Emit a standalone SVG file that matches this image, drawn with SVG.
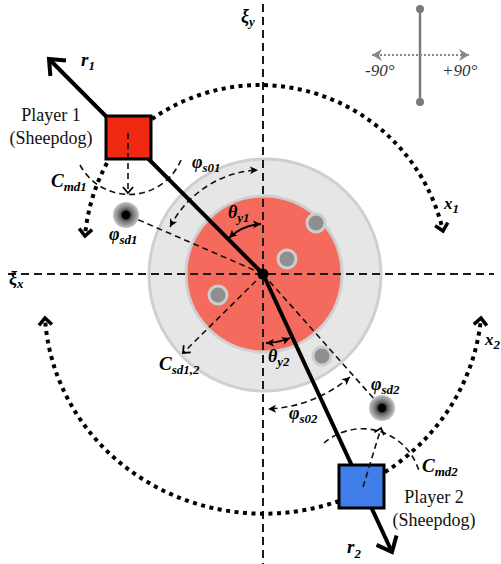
<svg xmlns="http://www.w3.org/2000/svg" width="501" height="564" viewBox="0 0 501 564">
<style>
.axis{fill:none;stroke:#1a1a1a;stroke-width:2;stroke-dasharray:8 5}
.dash{fill:none;stroke:#111;stroke-width:1.6;stroke-dasharray:6 4}
.dot{fill:none;stroke:#000;stroke-width:4;stroke-dasharray:4 4.5}
.rline{fill:none;stroke:#000;stroke-width:4}
.sheep{fill:#8f8f8f;stroke:#cdcdcd;stroke-width:3}
.m{font-family:"Liberation Serif","DejaVu Serif",serif;font-style:italic;font-weight:bold;fill:#000}
.sub{font-size:13px}
.pl{font-family:"Liberation Serif","DejaVu Serif",serif;font-size:18px;fill:#111;text-anchor:middle}
.leg{font-family:"Liberation Serif","DejaVu Serif",serif;font-style:italic;font-size:17px;fill:#333}
</style>
<defs>
<radialGradient id="sg">
<stop offset="0" stop-color="#000"/>
<stop offset="0.28" stop-color="#000"/>
<stop offset="0.4" stop-color="#555"/>
<stop offset="0.6" stop-color="#808080"/>
<stop offset="0.8" stop-color="#a2a2a2"/>
<stop offset="1" stop-color="#c6c6c6"/>
</radialGradient>
<marker id="big" markerUnits="userSpaceOnUse" viewBox="-20 -15 24 30" markerWidth="24" markerHeight="30" refX="0" refY="0" orient="auto">
<path d="M-13,-11 L0,0 L-13,11" fill="none" stroke="#000" stroke-width="4"/>
</marker>
<marker id="dotA" markerUnits="userSpaceOnUse" viewBox="-12 -10 16 20" markerWidth="16" markerHeight="20" refX="0" refY="0" orient="auto">
<path d="M-7,-6.5 L0,0 L-7,6.5" fill="none" stroke="#000" stroke-width="3.5"/>
</marker>
<marker id="chev" markerUnits="userSpaceOnUse" viewBox="-10 -8 12 16" markerWidth="12" markerHeight="16" refX="0" refY="0" orient="auto">
<path d="M-6,-5 L0,0 L-6,5" fill="none" stroke="#000" stroke-width="1.8"/>
</marker>
<marker id="fill" markerUnits="userSpaceOnUse" viewBox="-10 -6 12 12" markerWidth="12" markerHeight="12" refX="0" refY="0" orient="auto-start-reverse">
<path d="M-8,-4 L0,0 L-8,4 L-6,0 z" fill="#000"/>
</marker>
<marker id="legA" markerUnits="userSpaceOnUse" viewBox="-12 -8 14 16" markerWidth="14" markerHeight="16" refX="0" refY="0" orient="auto-start-reverse">
<path d="M-10,-6 L0,0 L-10,6 L-7,0 z" fill="#888"/>
</marker>
</defs>

<g id="field">
<circle cx="265" cy="275" r="116" fill="#e6e6e6" stroke="#cfcfcf" stroke-width="3"/>
<circle cx="264" cy="274" r="78" fill="#f46b5d" stroke="#cfcfcf" stroke-width="3"/>
</g>

<g id="axes">
<line class="axis" x1="263" y1="4" x2="263" y2="564"/>
<line class="axis" x1="8" y1="274" x2="494" y2="274"/>
</g>

<g id="sheep-herd">
<circle class="sheep" cx="316" cy="223" r="9"/>
<circle class="sheep" cx="287" cy="259" r="9"/>
<circle class="sheep" cx="218" cy="295" r="9"/>
<circle class="sheep" cx="322" cy="356" r="9"/>
</g>

<g id="connectors">
<line class="dash" x1="263" y1="274" x2="132" y2="217"/>
<line class="dash" x1="263" y1="274" x2="375" y2="400"/>
<line class="dash" x1="263" y1="274" x2="183" y2="353" marker-end="url(#chev)"/>
<path class="dash" d="M170,227 A104,104 0 0 1 258,170" marker-start="url(#fill)" marker-end="url(#fill)"/>
<path class="dash" d="M350,377 A135,135 0 0 1 268,409" marker-start="url(#fill)" marker-end="url(#fill)"/>
<path d="M229,238 A50,50 0 0 1 261,224" fill="none" stroke="#000" stroke-width="1.8" marker-start="url(#fill)" marker-end="url(#fill)"/>
<path d="M266,343 A69,69 0 0 0 290,338" fill="none" stroke="#000" stroke-width="1.8" marker-start="url(#fill)" marker-end="url(#fill)"/>
<path class="dash" d="M80,165 A56,56 0 0 0 181,160"/>
<path class="dash" d="M324,443 A59,59 0 0 1 419,471"/>
<path class="dot" d="M152,119 A188,188 0 0 1 443,231" marker-end="url(#dotA)"/>
<path class="dot" d="M107,163 A188,188 0 0 0 85,236" marker-end="url(#dotA)"/>
<path class="dot" d="M339,501 A219,208 0 0 1 45,318" marker-end="url(#dotA)"/>
<path class="dot" d="M385,472 A219,208 0 0 0 481,318" marker-end="url(#dotA)"/>
<line class="rline" x1="263" y1="274" x2="49" y2="59" marker-end="url(#big)"/>
<line class="rline" x1="263" y1="274" x2="392" y2="552" marker-end="url(#big)"/>
</g>

<g id="center">
<circle cx="263" cy="274" r="5.5" fill="#000"/>
</g>

<g id="sheep1">
<circle cx="126" cy="215" r="13" fill="url(#sg)"/>
</g>
<g id="sheep2">
<circle cx="382" cy="408" r="13" fill="url(#sg)"/>
</g>

<g id="player1">
<rect x="106" y="116" width="45" height="43" fill="#f02a12" stroke="#000" stroke-width="3"/>
<line class="dash" x1="128" y1="133" x2="128" y2="193" marker-end="url(#chev)"/>
<text class="pl" x="51" y="121">Player 1</text>
<text class="pl" x="51" y="144">(Sheepdog)</text>
</g>

<g id="player2">
<rect x="339" y="465" width="45" height="43" fill="#3f7ee8" stroke="#000" stroke-width="3"/>
<line class="dash" x1="363" y1="487" x2="381" y2="428" marker-end="url(#chev)"/>
<text class="pl" x="434" y="503">Player 2</text>
<text class="pl" x="434" y="526">(Sheepdog)</text>
</g>

<g id="legend">
<line x1="420" y1="9" x2="420" y2="102" stroke="#7a7a7a" stroke-width="2.5"/>
<circle cx="420" cy="9" r="4" fill="#7a7a7a"/>
<circle cx="420" cy="102" r="4" fill="#7a7a7a"/>
<line x1="372" y1="55" x2="469" y2="55" stroke="#888" stroke-width="2" stroke-dasharray="2 2" marker-start="url(#legA)" marker-end="url(#legA)"/>
<text class="leg" x="365" y="76">-90°</text>
<text class="leg" x="442" y="76">+90°</text>
</g>

<g id="labels">
<text class="m" x="81" y="66" font-size="19">r<tspan class="sub" dy="4">1</tspan></text>
<text class="m" x="347" y="553" font-size="19">r<tspan class="sub" dy="5">2</tspan></text>
<text class="m" x="241" y="22" font-size="18">ξ<tspan class="sub" dy="4">y</tspan></text>
<text class="m" x="9" y="284" font-size="18">ξ<tspan class="sub" dy="4">x</tspan></text>
<text class="m" x="444" y="209" font-size="17">x<tspan class="sub" dy="4">1</tspan></text>
<text class="m" x="485" y="345" font-size="17">x<tspan class="sub" dy="4">2</tspan></text>
<text class="m" x="51" y="187" font-size="19">C<tspan class="sub" dy="4">md1</tspan></text>
<text class="m" x="422" y="472" font-size="19">C<tspan class="sub" dy="4">md2</tspan></text>
<text class="m" x="159" y="370" font-size="19">C<tspan class="sub" dy="4">sd1,2</tspan></text>
<text class="m" x="109" y="240" font-size="18">φ<tspan class="sub" dy="4">sd1</tspan></text>
<text class="m" x="371" y="390" font-size="18">φ<tspan class="sub" dy="4">sd2</tspan></text>
<text class="m" x="192" y="168" font-size="18">φ<tspan class="sub" dy="4">s01</tspan></text>
<text class="m" x="289" y="419" font-size="18">φ<tspan class="sub" dy="4">s02</tspan></text>
<text class="m" x="228" y="218" font-size="18">θ<tspan class="sub" dy="4">y1</tspan></text>
<text class="m" x="268" y="362" font-size="18">θ<tspan class="sub" dy="4">y2</tspan></text>
</g>
</svg>
